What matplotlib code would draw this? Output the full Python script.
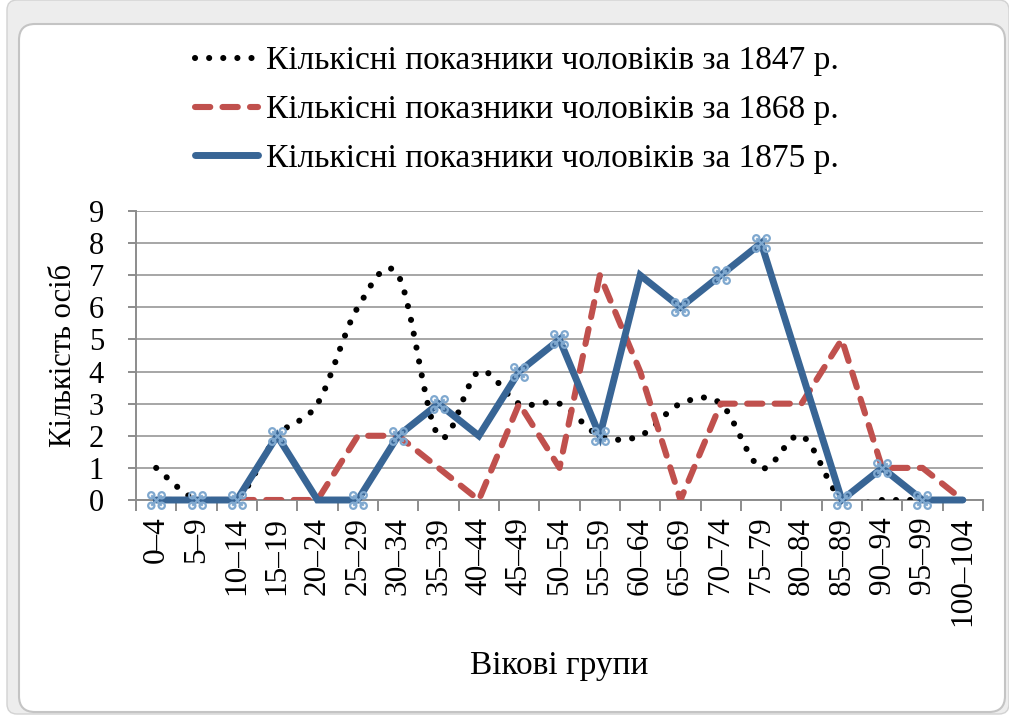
import matplotlib
matplotlib.use("Agg")
import matplotlib.pyplot as plt
from matplotlib.path import Path
from matplotlib.patches import PathPatch, FancyBboxPatch
from matplotlib.lines import Line2D
from matplotlib.transforms import IdentityTransform
import numpy as np

categories = ["0–4", "5–9", "10–14", "15–19", "20–24", "25–29", "30–34", "35–39",
              "40–44", "45–49", "50–54", "55–59", "60–64", "65–69", "70–74", "75–79",
              "80–84", "85–89", "90–94", "95–99", "100–104"]
men_1847 = [1, 0, 0, 2, 3, 6, 7, 2, 4, 3, 3, 2, 2, 3, 3, 1, 2, 0, 0, 0, 0]
men_1868 = [0, 0, 0, 0, 0, 2, 2, 1, 0, 3, 1, 7, 4, 0, 3, 3, 3, 5, 1, 1, 0]
men_1875 = [0, 0, 0, 2, 0, 0, 2, 3, 2, 4, 5, 2, 7, 6, 7, 8, 4, 0, 1, 0, 0]
labels = ["Кількісні показники чоловіків за 1847 р.",
          "Кількісні показники чоловіків за 1868 р.",
          "Кількісні показники чоловіків за 1875 р."]
y_ticks = list(range(0, 10))
x_title = "Вікові групи"
y_title = "Кількість осіб"

FONT = "Liberation Serif"
plt.rcParams['font.family'] = [FONT, 'DejaVu Serif']

W, H = 1009, 718
fig = plt.figure(figsize=(W / 100, H / 100), dpi=100)
fig.patch.set_facecolor("white")

# window-like frame
outer = FancyBboxPatch((7 + 6, 4 + 6), W - 7 - 12, H - 10 - 12 + 6,
                       boxstyle="round,pad=6,rounding_size=10",
                       transform=IdentityTransform(), facecolor="#ededed",
                       edgecolor="#d2d2d2", linewidth=1.0, zorder=-10)
inner = FancyBboxPatch((19 + 14, 6 + 14), 1005 - 19 - 28, 696 - 22 - 28 + 14,
                       boxstyle="round,pad=14,rounding_size=16",
                       transform=IdentityTransform(), facecolor="white",
                       edgecolor="#c4c4c4", linewidth=1.5, zorder=-9)
fig.add_artist(outer)
fig.add_artist(inner)

ax = fig.add_axes([136 / W, 1 - 500 / H, (983 - 136) / W, (500 - 211) / H])
ax.set_facecolor("none")
x = np.arange(len(categories))

# grid
ax.set_ylim(0, 9)
ax.set_xlim(-0.5, len(categories) - 0.5)
ax.set_yticks(y_ticks)
ax.yaxis.grid(True, color="#a6a6a6", linewidth=1.4)
ax.set_axisbelow(True)
for s in ["top", "right"]:
    ax.spines[s].set_visible(False)
for s in ["left", "bottom"]:
    ax.spines[s].set_color("#8c8c8c")
    ax.spines[s].set_linewidth(1.4)
ax.tick_params(axis="y", length=6, width=1.4, color="#8c8c8c", labelsize=22, pad=17)
ax.set_xticks(x)
ax.set_xticklabels(categories, rotation=90, fontsize=22.5)
ax.set_xticks(np.arange(-0.5, len(categories)), minor=True)
ax.tick_params(axis="x", which="major", length=0, pad=12)
ax.tick_params(axis="x", which="minor", length=8, width=1.4, color="#8c8c8c")

# 1847 smoothed dotted line (cubic Bezier through the points)
pts = np.column_stack([x, men_1847]).astype(float)
n = len(pts)
verts = [tuple(pts[0])]
codes = [Path.MOVETO]
for i in range(n - 1):
    p0 = pts[i - 1] if i > 0 else pts[i]
    p1 = pts[i]
    p2 = pts[i + 1]
    p3 = pts[i + 2] if i + 2 < n else pts[i + 1]
    c1 = p1 + (p2 - p0) / 6.0
    c2 = p2 - (p3 - p1) / 6.0
    verts += [tuple(c1), tuple(c2), tuple(p2)]
    codes += [Path.CURVE4] * 3
dot_style = (0, (0.01, 2.3))
patch = PathPatch(Path(verts, codes), facecolor="none", edgecolor="black",
                  linewidth=4.4, linestyle=dot_style, capstyle="round", zorder=3)
ax.add_patch(patch)

red = "#c0504d"
blue = "#386595"
dash_style = (0, (2.5, 2.0))
ax.plot(x, men_1868, color=red, linewidth=4.4, linestyle=dash_style,
        dash_capstyle="round", zorder=4)

# custom marker: four small rings with a cross
circ = []
for cx, cy in [(-0.5, -0.5), (0.5, -0.5), (-0.5, 0.5), (0.5, 0.5)]:
    c = Path.circle((cx, cy), 0.3)
    circ.append(c)
cross = Path([(-0.5, -0.5), (0.5, 0.5), (-0.5, 0.5), (0.5, -0.5)],
             [Path.MOVETO, Path.LINETO, Path.MOVETO, Path.LINETO])
marker_path = Path.make_compound_path(*circ, cross)
mark_idx = [0, 1, 2, 3, 5, 6, 7, 9, 10, 11, 13, 14, 15, 17, 18, 19]
ax.plot(x, men_1875, color=blue, linewidth=5.0, solid_capstyle="round",
        solid_joinstyle="miter", marker=marker_path, markersize=12,
        markerfacecolor="none", markeredgecolor="#7fa8cf", markeredgewidth=1.6,
        markevery=mark_idx, zorder=5, clip_on=False)

ax.set_xlabel(x_title, fontsize=24, labelpad=18)
ax.set_ylabel(y_title, fontsize=22, labelpad=8)

handles = [
    Line2D([], [], color="black", linewidth=4.4, linestyle=dot_style,
           dash_capstyle="round"),
    Line2D([], [], color=red, linewidth=4.4, linestyle=dash_style,
           dash_capstyle="round"),
    Line2D([], [], color=blue, linewidth=5.0, solid_capstyle="round"),
]
fig.legend(handles, labels, loc="upper center", bbox_to_anchor=(517 / W, 1 - 16 / H),
           frameon=False, fontsize=24, handlelength=1.9, handletextpad=0.25,
           labelspacing=0.55)

fig.savefig("out.png", dpi=100)
